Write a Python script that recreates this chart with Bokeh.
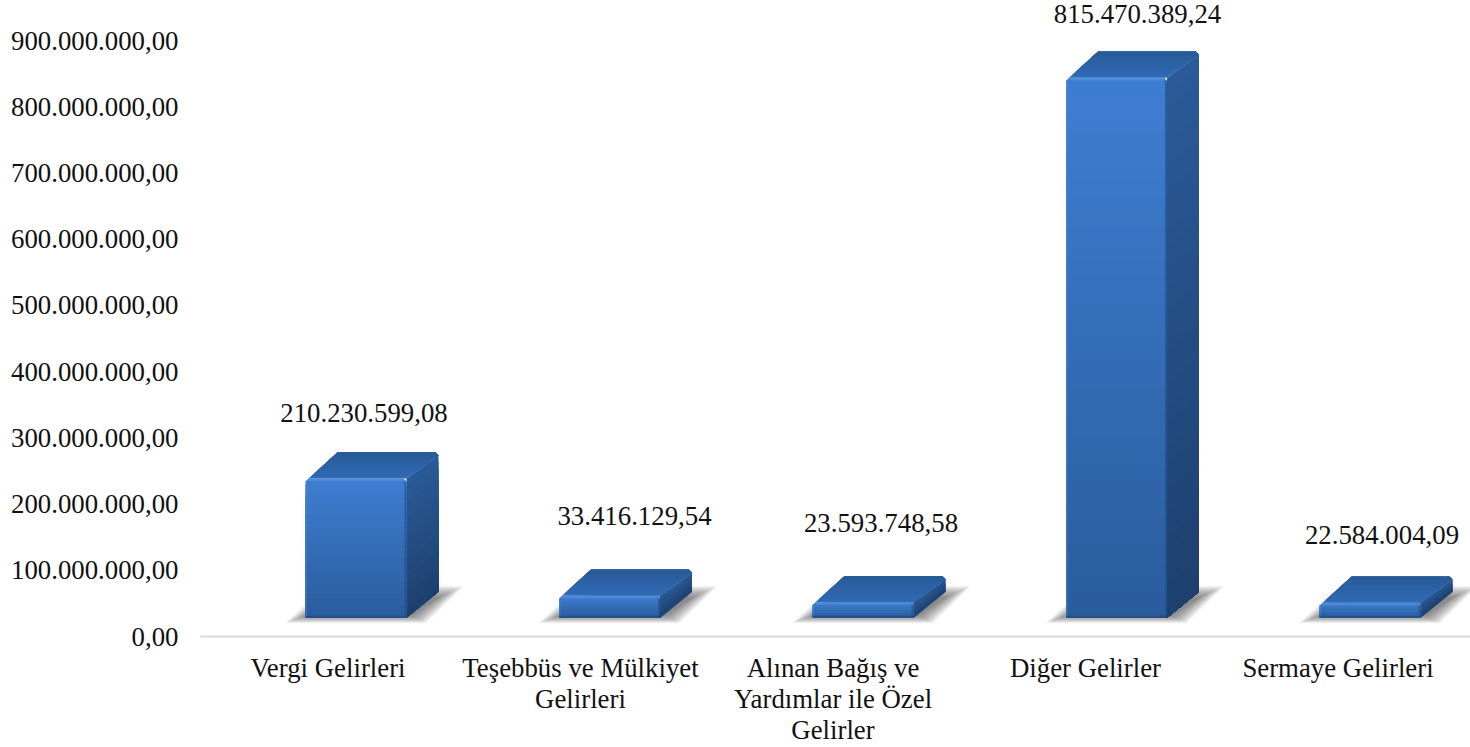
from bokeh.plotting import figure
from bokeh.models import Range1d, FixedTicker, ColumnDataSource
from bokeh.core.properties import value
from bokeh.embed import file_html
from bokeh.resources import INLINE

categories = ["Vergi Gelirleri", "Teşebbüs ve Mülkiyet\nGelirleri",
              "Alınan Bağış ve\nYardımlar ile Özel\nGelirler", "Diğer Gelirler", "Sermaye Gelirleri"]
values = [210230599.08, 33416129.54, 23593748.58, 815470389.24, 22584004.09]
value_labels = ["210.230.599,08", "33.416.129,54", "23.593.748,58", "815.470.389,24", "22.584.004,09"]
y_ticks = [i * 100000000 for i in range(10)]
y_tick_labels = ["0,00", "100.000.000,00", "200.000.000,00", "300.000.000,00", "400.000.000,00",
                 "500.000.000,00", "600.000.000,00", "700.000.000,00", "800.000.000,00", "900.000.000,00"]
label_dx = [8, 25, 18, 21, 12]
label_dy = [66, 80, 79, 64, 68]

FONT = "Liberation Serif"
FS = "26.8px"
W, H = 1470, 747
LEFT, BOTTOM = 200, 111
PX_PER_CAT = 252.5
PX_PER_UNIT_Y = 0.6622e-6
PX = 1 / PX_PER_CAT
PY = 1 / PX_PER_UNIT_Y
BAR_W = 101 * PX
BAR_SHIFT = 28 * PX
BAR_STEP_EXTRA = 1 * PX
DX, DY = 32 * PX, 26 * PY
FLOOR = 18.7 * PY
X_START = 0.5 - 127.5 * PX


def mix(a, b, t):
    return "#%02x%02x%02x" % tuple(round(a[i] + (b[i] - a[i]) * t) for i in range(3))


def bar_center(i):
    return i + 0.5 + BAR_SHIFT + i * BAR_STEP_EXTRA


p = figure(width=W, height=H, output_backend="svg", toolbar_location=None,
           x_range=Range1d(X_START, X_START + (W - LEFT) * PX), y_range=Range1d(0, (H - BOTTOM) * PY),
           min_border_left=LEFT, min_border_bottom=BOTTOM, min_border_top=0, min_border_right=0)
p.outline_line_color = None
p.grid.visible = False

xa = p.xaxis[0]
xa.ticker = FixedTicker(ticks=[i + 0.5 for i in range(len(categories))])
xa.major_label_overrides = {i + 0.5: c for i, c in enumerate(categories)}
xa.axis_line_color = "#d9d9d9"
xa.axis_line_width = 2
xa.major_tick_line_color = None
xa.major_tick_out = 0
xa.major_tick_in = 0
xa.minor_tick_line_color = None
xa.minor_tick_out = 0
xa.major_label_text_font = FONT
xa.major_label_text_font_size = FS
xa.major_label_text_color = "#111111"
xa.major_label_text_line_height = 1.04
xa.major_label_standoff = 16
xa.major_label_orientation = "horizontal"

ya = p.yaxis[0]
ya.ticker = FixedTicker(ticks=y_ticks)
ya.major_label_overrides = dict(zip(y_ticks, y_tick_labels))
ya.axis_line_color = None
ya.major_tick_line_color = None
ya.major_tick_out = 0
ya.major_tick_in = 0
ya.minor_tick_line_color = None
ya.minor_tick_out = 0
ya.major_label_text_font = FONT
ya.major_label_text_font_size = FS
ya.major_label_text_color = "#111111"
ya.major_label_standoff = 22

# floor shadows (soft: stacked translucent parallelograms with a wide falloff)
sx, sy = [], []
LAYERS = 26
for i in range(len(values)):
    x0 = bar_center(i) - BAR_W / 2
    x1 = x0 + BAR_W
    for k in range(LAYERS):
        e = (LAYERS - k) * 20 / LAYERS
        bot = FLOOR + (3 - e * 0.42) * PY
        top = FLOOR + (19 + e * 0.65) * PY
        sx.append([x0 + (2 - e * 1.15) * PX, x1 + (4 + e * 0.8) * PX,
                   x1 + (30 + e * 1.4) * PX, x0 + (40 - e) * PX])
        sy.append([bot, bot, top, top])
p.patches(sx, sy, fill_color="#3a3a3a", fill_alpha=0.032, line_color=None)

FRONT_TOP, FRONT_BOT = (62, 126, 210), (42, 92, 156)
SIDE_TOP, SIDE_BOT = (42, 91, 152), (29, 64, 110)
TOP_FRONT, TOP_BACK = (47, 107, 181), (41, 90, 152)
CH_X, CH_Y = 3 * PX, 3 * PY

for i, v in enumerate(values):
    x0 = bar_center(i) - BAR_W / 2
    x1 = x0 + BAR_W
    b = FLOOR
    t = FLOOR + v
    # right side, painted from top to bottom, each band reaching the floor
    n = max(4, int((t - b) / PY / 8))
    xs, ys, cs = [], [], []
    for k in range(n):
        ya0 = t - (t - b) * k / n
        back_top = min(ya0 + DY, t + DY - CH_Y)
        xs.append([x1, x1 + DX, x1 + DX, x1])
        ys.append([ya0, back_top, b + DY, b])
        cs.append(mix(SIDE_TOP, SIDE_BOT, (k + 0.5) / n))
    p.patches(xs, ys, fill_color=cs, line_color=None)
    # top face, painted front to back, each band reaching the back edge
    xs, ys, cs = [], [], []
    m = 10
    for k in range(m):
        f0 = k / m
        xs.append([x0 + CH_X + (DX - CH_X) * f0, x1 + DX * f0, x1 + DX, x1 + DX - CH_X, x0 + DX])
        ys.append([t + DY * f0, t + DY * f0, t + DY - CH_Y, t + DY, t + DY])
        cs.append(mix(TOP_FRONT, TOP_BACK, (k + 0.5) / m))
    p.patches(xs, ys, fill_color=cs, line_color=None)
    # front face, painted top to bottom, each band reaching the floor
    n = max(6, int((t - b) / PY / 6))
    xs, ys, cs = [], [], []
    for k in range(n):
        top_k = t - (t - b) * k / n
        if k == 0:
            xs.append([x0, x0 + CH_X, x1 - CH_X, x1, x1, x0])
            ys.append([top_k - CH_Y, top_k, top_k, top_k - CH_Y, b, b])
        else:
            xs.append([x0, x1, x1, x0])
            ys.append([top_k, top_k, b, b])
        cs.append(mix(FRONT_TOP, FRONT_BOT, (k + 0.5) / n))
    p.patches(xs, ys, fill_color=cs, line_color=None)
    # bevel edges
    p.quad(left=[x0 + CH_X], right=[x1 - CH_X], top=[t], bottom=[t - 2.5 * PY], fill_color="#5a98e2",
           fill_alpha=0.55, line_color=None)
    p.quad(left=[x1 - 2 * PX], right=[x1], top=[t - CH_Y], bottom=[b], fill_color="#1f4a80",
           fill_alpha=0.6, line_color=None)
    p.quad(left=[x0], right=[x0 + 1.5 * PX], top=[t - CH_Y], bottom=[b], fill_color="#5a98e2",
           fill_alpha=0.35, line_color=None)
    p.quad(left=[x0], right=[x1], top=[b + 2 * PY], bottom=[b], fill_color="#1f4a80",
           fill_alpha=0.7, line_color=None)

src = ColumnDataSource(dict(
    x=[bar_center(i) for i in range(len(values))],
    y=[FLOOR + v for v in values],
    text=value_labels,
    dx=label_dx,
    dy=[-d for d in label_dy],
))
p.text("x", "y", text="text", x_offset="dx", y_offset="dy", source=src, text_align="center",
       text_baseline="middle", text_font=value(FONT), text_font_size=FS, text_color="#111111")

open("out.html", "w").write(file_html(p, INLINE))
